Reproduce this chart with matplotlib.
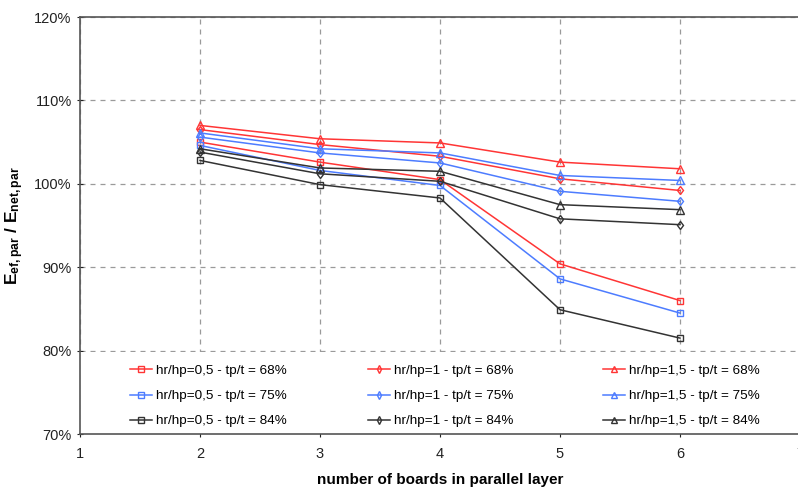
import numpy as np
import matplotlib
matplotlib.use("Agg")
import matplotlib.pyplot as plt
from matplotlib.patches import Rectangle
from matplotlib.legend import Legend
from matplotlib.ticker import FuncFormatter


# Data (values in %)
boards = [2, 3, 4, 5, 6]

sq68 = [105.0, 102.6, 100.5, 90.4, 86.0]
sq75 = [104.6, 101.6, 99.8, 88.6, 84.5]
sq84 = [102.8, 99.9, 98.3, 84.9, 81.5]

dia68 = [106.5, 104.7, 103.3, 100.6, 99.2]
dia75 = [105.6, 103.7, 102.5, 99.1, 97.9]
dia84 = [103.8, 101.2, 100.3, 95.8, 95.1]

tri68 = [107.0, 105.4, 104.9, 102.6, 101.8]
tri75 = [106.1, 104.2, 103.7, 101.0, 100.4]
tri84 = [104.2, 101.9, 101.5, 97.5, 96.9]

labels_sq = ["hr/hp=0,5 - tp/t = 68%", "hr/hp=0,5 - tp/t = 75%", "hr/hp=0,5 - tp/t = 84%"]
labels_dia = ["hr/hp=1 - tp/t = 68%", "hr/hp=1 - tp/t = 75%", "hr/hp=1 - tp/t = 84%"]
labels_tri = ["hr/hp=1,5 - tp/t = 68%", "hr/hp=1,5 - tp/t = 75%", "hr/hp=1,5 - tp/t = 84%"]

colors = ["#ff3535", "#4d7cff", "#333333"]


plt.rcParams["font.family"] = ["Liberation Sans", "DejaVu Sans"]
plt.rcParams["mathtext.fontset"] = "custom"
plt.rcParams["mathtext.rm"] = "Liberation Sans"
plt.rcParams["mathtext.bf"] = "Liberation Sans:bold"

fig = plt.figure(figsize=(7.98, 4.88), dpi=100)
ax = fig.add_axes([80/798, 54/488, 720/798, 417/488])

ax.set_axisbelow(True)
ax.grid(True, color="#9a9a9a", linestyle=(0, (4, 4)), linewidth=0.9)

# white box behind the legend hides the gridlines there
ax.add_patch(Rectangle((0, 0), 1, 0.197, transform=ax.transAxes,
                       facecolor="white", edgecolor="none", zorder=1))


def draw_group(series, labels, marker, ms):
    handles = []
    for y, lab, c in zip(series, labels, colors):
        h, = ax.plot(boards, y, color=c, lw=1.1, marker=marker, ms=ms,
                     mfc="none", mec=c, mew=1.0, label=lab, zorder=3)
        handles.append(h)
    return handles


h_sq = draw_group([sq68, sq75, sq84], labels_sq, "s", 5)
h_dia = draw_group([dia68, dia75, dia84], labels_dia, "d", 4.5)
h_tri = draw_group([tri68, tri75, tri84], labels_tri, "^", 5.5)

ax.set_xlim(1, 7)
ax.set_ylim(70, 120)
ax.set_xticks([1, 2, 3, 4, 5, 6, 7])
ax.set_yticks([70, 80, 90, 100, 110, 120])
ax.yaxis.set_major_formatter(FuncFormatter(lambda v, p: "%d%%" % v))
ax.tick_params(labelsize=10.5, colors="#222222", length=4, width=0.8,
               direction="inout", pad=7)
ax.tick_params(axis="y", pad=4)

for s in ["left", "bottom", "top"]:
    ax.spines[s].set_color("#555555")
    ax.spines[s].set_linewidth(1.2)
ax.spines["right"].set_visible(False)

ax.set_xlabel("number of boards in parallel layer", fontsize=11,
              fontweight="bold", labelpad=9)
ax.set_ylabel(r"$\mathbf{E_{ef,par}}$ $\mathbf{/}$ $\mathbf{E_{net,par}}$",
              fontsize=12.5, labelpad=6)

# legend, one per column
for hs, xpos in zip([h_sq, h_dia, h_tri], [0.069, 0.400, 0.726]):
    leg = Legend(ax, hs, [h.get_label() for h in hs], loc="upper left",
                 bbox_to_anchor=(xpos, 0.166), frameon=False, fontsize=9.7,
                 handlelength=1.65, handletextpad=0.3, labelspacing=0.94,
                 borderpad=0, borderaxespad=0, markerscale=0.9)
    ax.add_artist(leg)

fig.savefig("out.png", dpi=100)
